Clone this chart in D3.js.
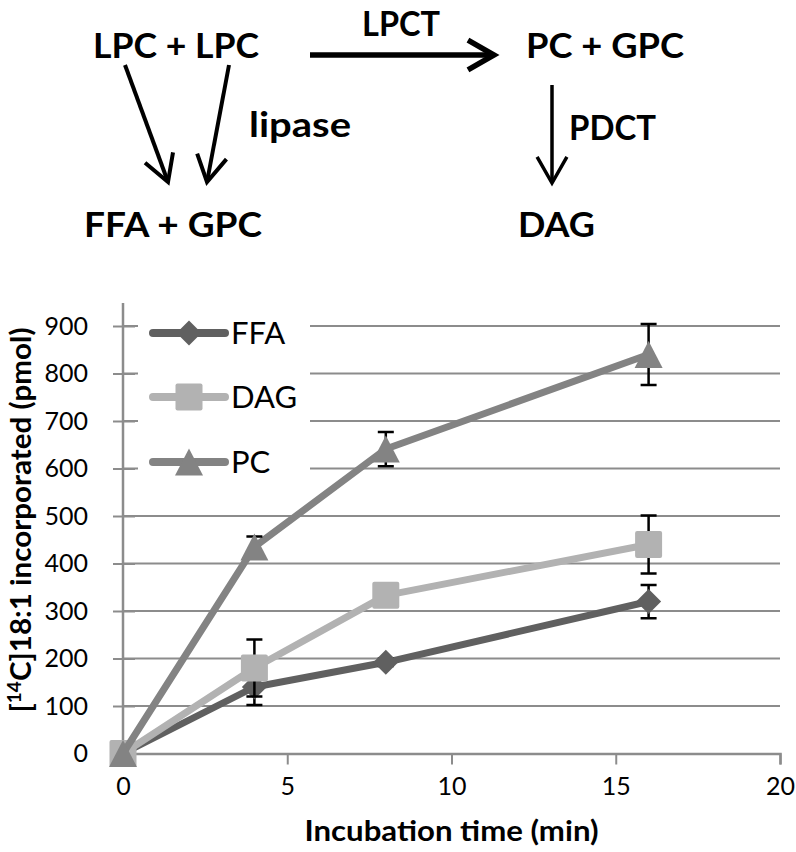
<!DOCTYPE html>
<html><head><meta charset="utf-8">
<script src="https://cdn.jsdelivr.net/npm/d3@7"></script>
<style>body{margin:0;background:#fff}svg{display:block}</style>
</head><body>
<svg id="c" width="796" height="852"></svg>
<script>
// ---- data ----
const times = [0, 4, 8, 16];
const seriesNames = ["FFA", "DAG", "PC"];
const ffaValues = [0, 140, 192, 320];
const ffaErrors = [0, 38, 8, 35];
const dagValues = [0, 180, 333, 440];
const dagErrors = [0, 60, 10, 61];
const pcValues = [0, 435, 641, 840];
const pcErrors = [0, 22, 36, 64];
const yTicks = [0, 100, 200, 300, 400, 500, 600, 700, 800, 900];
const xTicks = [0, 5, 10, 15, 20];
const xTitle = "Incubation time (min)";

const series = [
  {name: "FFA", values: ffaValues, errors: ffaErrors, color: "#606060", shape: "diamond"},
  {name: "DAG", values: dagValues, errors: dagErrors, color: "#b2b2b2", shape: "square"},
  {name: "PC",  values: pcValues,  errors: pcErrors,  color: "#838383", shape: "triangle"}
];

const svg = d3.select("#c");
const FONT = "Lato, 'Open Sans', sans-serif";

// ---- scheme diagram ----
const diag = svg.append("g");
const labels = [
  {t: "LPC + LPC", x: 93, w: 166, y: 58},
  {t: "LPCT", x: 362, w: 78, y: 36},
  {t: "PC + GPC", x: 526, w: 158, y: 58},
  {t: "lipase", x: 249, w: 102, y: 137},
  {t: "PDCT", x: 569, w: 87, y: 140},
  {t: "FFA + GPC", x: 84, w: 178, y: 237},
  {t: "DAG", x: 518, w: 77, y: 237}
];
labels.forEach(l => diag.append("text").attr("x", l.x).attr("y", l.y)
  .attr("textLength", l.w).attr("lengthAdjust", "spacingAndGlyphs")
  .style("font-family", FONT).style("font-weight", 700).style("font-size", "35px")
  .text(l.t));
const arrows = [
  {x1: 310, y1: 55, x2: 494, y2: 55, w: 5.5},
  {x1: 125, y1: 65, x2: 168, y2: 182, w: 4},
  {x1: 229, y1: 65, x2: 207, y2: 182, w: 4},
  {x1: 552, y1: 85, x2: 552, y2: 183, w: 3.5}
];
arrows.forEach(a => {
  diag.append("line").attr("x1", a.x1).attr("y1", a.y1).attr("x2", a.x2).attr("y2", a.y2)
    .attr("stroke", "#000").attr("stroke-width", a.w);
  const ang = Math.atan2(a.y2 - a.y1, a.x2 - a.x1), L = 30, sp = 0.52;
  const p1 = [a.x2 - L * Math.cos(ang - sp), a.y2 - L * Math.sin(ang - sp)];
  const p2 = [a.x2 - L * Math.cos(ang + sp), a.y2 - L * Math.sin(ang + sp)];
  diag.append("path").attr("d", `M${p1}L${a.x2},${a.y2}L${p2}`)
    .attr("fill", "none").attr("stroke", "#000").attr("stroke-width", a.w)
    .attr("stroke-linejoin", "miter");
});

// ---- chart ----
const x = d3.scaleLinear().domain([0, 20]).range([123, 780]);
const y = d3.scaleLinear().domain([0, 900]).range([753.5, 326]);
const axisColor = "#8c8c8c";

// gridlines
svg.append("g").selectAll("line").data(yTicks.slice(1)).join("line")
  .attr("x1", x(0)).attr("x2", x(20)).attr("y1", d => y(d)).attr("y2", d => y(d))
  .attr("stroke", axisColor).attr("stroke-width", 2);

// y axis
const yAxis = svg.append("g").attr("transform", `translate(${x(0)},0)`)
  .call(d3.axisLeft(y).tickValues(yTicks).tickSize(10).tickPadding(25));
yAxis.select(".domain").remove();
yAxis.selectAll(".tick line").attr("x2", -10).attr("x1", 12).attr("stroke", axisColor).attr("stroke-width", 2);
yAxis.selectAll("text").style("font-family", FONT).style("font-size", "25px").attr("fill", "#000");
svg.append("line").attr("x1", x(0)).attr("x2", x(0)).attr("y1", 303).attr("y2", y(0))
  .attr("stroke", axisColor).attr("stroke-width", 2.5);

// x axis
const xAxis = svg.append("g").attr("transform", `translate(0,${y(0)})`)
  .call(d3.axisBottom(x).tickValues(xTicks).tickSize(11).tickPadding(13));
xAxis.select(".domain").attr("stroke", axisColor).attr("stroke-width", 2.5);
xAxis.selectAll(".tick line").attr("stroke", axisColor).attr("stroke-width", 2);
xAxis.selectAll("text").style("font-family", FONT).style("font-size", "25px").attr("fill", "#000");

// axis titles
svg.append("text").attr("x", (x(0) + x(20)) / 2).attr("y", 841).attr("text-anchor", "middle")
  .attr("textLength", 294).attr("lengthAdjust", "spacingAndGlyphs")
  .style("font-family", FONT).style("font-weight", 700).style("font-size", "29px").text(xTitle);
const yt = svg.append("text").attr("transform", "translate(31,520) rotate(-90)").attr("text-anchor", "middle")
  .attr("textLength", 385).attr("lengthAdjust", "spacingAndGlyphs")
  .style("font-family", FONT).style("font-weight", 700).style("font-size", "28px");
yt.append("tspan").text("[");
yt.append("tspan").attr("dy", -10).style("font-size", "18px").text("14");
yt.append("tspan").attr("dy", 10).text("C]18:1 incorporated (pmol)");

// legend background
svg.append("rect").attr("x", 138).attr("y", 304).attr("width", 172).attr("height", 186).attr("fill", "#fff");

function marker(g, shape, cx, cy, color) {
  if (shape === "diamond") {
    const r = 12.5;
    g.append("path").attr("d", `M${cx},${cy - r}L${cx + r},${cy}L${cx},${cy + r}L${cx - r},${cy}Z`).attr("fill", color);
  } else if (shape === "square") {
    g.append("rect").attr("x", cx - 13.5).attr("y", cy - 13.5).attr("width", 27).attr("height", 27).attr("rx", 2).attr("fill", color);
  } else {
    g.append("path").attr("d", `M${cx},${cy - 13.5}L${cx + 14},${cy + 13.5}L${cx - 14},${cy + 13.5}Z`).attr("fill", color);
  }
}

const line = d3.line().x((d, i) => x(times[i])).y(d => y(d));
series.forEach(s => {
  const g = svg.append("g");
  g.append("path").attr("d", line(s.values)).attr("fill", "none").attr("stroke", s.color)
    .attr("stroke-width", 7).attr("stroke-linejoin", "round").attr("stroke-linecap", "round");
  s.values.forEach((v, i) => {
    const e = s.errors[i];
    if (e > 0) {
      const cx = x(times[i]);
      g.append("path").attr("d", `M${cx},${y(v - e)}V${y(v + e)}M${cx - 8},${y(v + e)}H${cx + 8}M${cx - 8},${y(v - e)}H${cx + 8}`)
        .attr("stroke", "#000").attr("stroke-width", 2.5).attr("fill", "none");
    }
  });
  s.values.forEach((v, i) => marker(g, s.shape, x(times[i]), y(v), s.color));
});

// legend
const legY = [333, 397, 462];
series.forEach((s, i) => {
  const g = svg.append("g");
  g.append("line").attr("x1", 153).attr("x2", 225).attr("y1", legY[i]).attr("y2", legY[i])
    .attr("stroke", s.color).attr("stroke-width", 8).attr("stroke-linecap", "round");
  marker(g, s.shape, 189, legY[i], s.color);
  g.append("text").attr("x", 231).attr("y", legY[i] + 11)
    .style("font-family", FONT).style("font-size", "31px").text(seriesNames[i]);
});
</script>
</body></html>
